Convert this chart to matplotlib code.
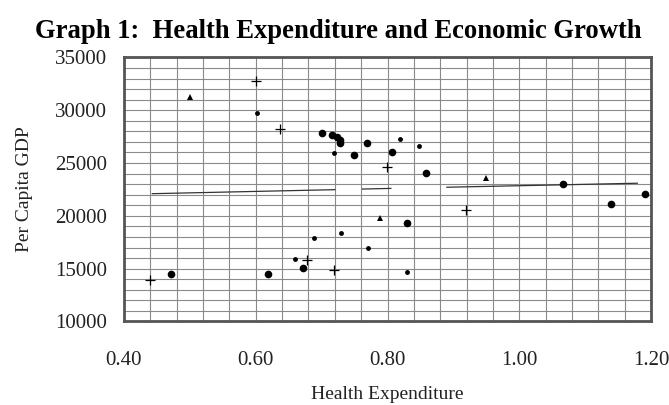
import numpy as np
import matplotlib
matplotlib.use("Agg")
import matplotlib.pyplot as plt
from matplotlib.ticker import MultipleLocator, FixedLocator

plt.rcParams['font.family'] = ['Liberation Serif', 'DejaVu Serif']

# countries shown as big dots
dot_x = [0.471, 0.619, 0.700, 0.716, 0.724, 0.728, 0.728, 0.749, 0.769, 0.807,
         0.858, 0.829, 1.067, 1.139, 1.191, 0.671]
dot_y = [14500, 14500, 27800, 27700, 27500, 27200, 26900, 25750, 26900, 26000,
         24100, 19300, 23050, 21150, 22050, 15050]

# smaller dots
sdot_x = [0.602, 0.659, 0.689, 0.770, 0.829, 0.718, 0.730, 0.819, 0.848]
sdot_y = [29750, 15950, 17900, 17000, 14650, 25950, 18350, 27250, 26650]

# plus-sign markers
plus_x = [0.440, 0.600, 0.637, 0.678, 0.718, 0.799, 0.919]
plus_y = [13900, 32800, 28250, 15800, 14900, 24600, 20600]

# triangle markers
tri_x = [0.500, 0.789, 0.949]
tri_y = [31300, 19800, 23600]

# trend line (drawn with gaps in the original)
trend_x = [0.443, 0.720, np.nan, 0.762, 0.805, np.nan, 0.890, 1.179]
trend_y = [22100, 22480, np.nan, 22540, 22600, np.nan, 22710, 23090]

x_ticks = [0.40, 0.60, 0.80, 1.00, 1.20]
y_ticks = [10000, 15000, 20000, 25000, 30000, 35000]

fig = plt.figure(figsize=(6.69, 4.05), dpi=100)
ax = fig.add_axes([0.1853, 0.2062, 0.788, 0.652])

ax.set_xlim(0.4, 1.2)
ax.set_ylim(10000, 35000)
ax.xaxis.set_major_locator(FixedLocator(x_ticks))
ax.yaxis.set_major_locator(FixedLocator(y_ticks))
ax.xaxis.set_minor_locator(MultipleLocator(0.04))
ax.yaxis.set_minor_locator(MultipleLocator(1000))
ax.set_xticklabels(["%.2f" % v for v in x_ticks])
ax.set_yticklabels([str(v) for v in y_ticks])

ax.grid(True, which='both', color='#8a8a8a', linewidth=0.8)
ax.set_axisbelow(True)
ax.tick_params(which='both', length=0)
ax.tick_params(axis='x', pad=21, labelsize=15, colors='#222222')
ax.tick_params(axis='y', pad=12, labelsize=15, colors='#222222')
for s in ax.spines.values():
    s.set_color('#555555')
    s.set_linewidth(2)

ax.plot(trend_x, trend_y, color='#333333', linewidth=0.9)
ax.plot(dot_x, dot_y, 'o', color='black', markersize=5.5, markeredgewidth=0)
ax.plot(sdot_x, sdot_y, 'o', color='black', markersize=3.5, markeredgewidth=0)
ax.plot(plus_x, plus_y, '+', color='black', markersize=7, markeredgewidth=0.9)
ax.plot(tri_x, tri_y, '^', color='black', markersize=4, markeredgewidth=0)

ax.set_xlabel("Health Expenditure", fontsize=14, labelpad=12, color='#222222')
ax.set_ylabel("Per Capita GDP", fontsize=14, labelpad=16, color='#222222')
fig.text(0.505, 0.922, "Graph 1:  Health Expenditure and Economic Growth",
         ha='center', va='center', fontsize=19.2, fontweight='bold')

fig.savefig("out.png", dpi=100)
